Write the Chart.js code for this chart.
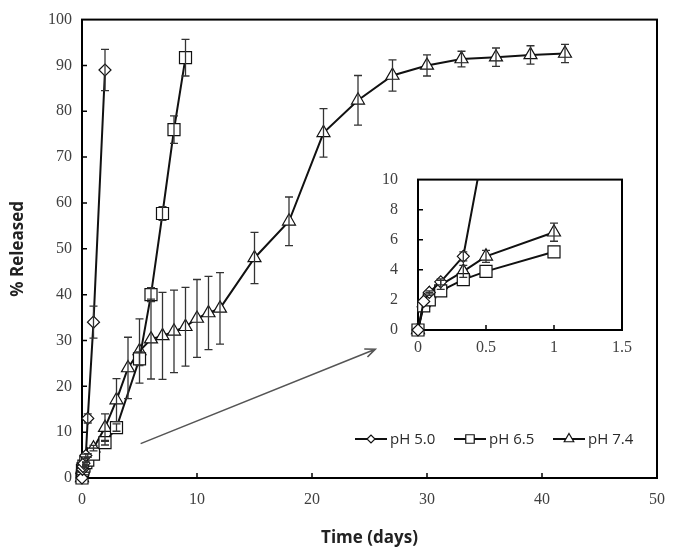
<!DOCTYPE html>
<html>
<head>
<meta charset="utf-8">
<script src="https://cdn.jsdelivr.net/npm/chart.js@4.4.1/dist/chart.umd.min.js"></script>
<style>
  body { margin: 0; background: #fff; }
  #wrap { position: relative; width: 677px; height: 556px; }
  #main { position: absolute; left: 0; top: 0; }
  #inset { position: absolute; left: 360px; top: 150px; }
</style>
</head>
<body>
<div id="wrap">
  <canvas id="main" width="677" height="556"></canvas>
  <canvas id="inset" width="280" height="215"></canvas>
</div>
<script>
// pH 5.0
const t50 = [0, 0.042, 0.083, 0.167, 0.333, 0.5, 1, 2];
const rel50 = [0, 1.9, 2.5, 3.2, 4.9, 13, 34, 89];
const err50 = [0, 0, 0.1, 0.2, 0.3, 1.0, 3.5, 4.5];

// pH 6.5
const t65 = [0, 0.042, 0.083, 0.167, 0.333, 0.5, 1, 2, 3, 5, 6, 7, 8, 9];
const rel65 = [0, 1.6, 2.0, 2.6, 3.35, 3.9, 5.2, 7.7, 11, 26, 40, 57.7, 76, 91.7];
const err65 = [0, 0, 0, 0, 0, 0, 0, 0.5, 0.8, 1.5, 1.5, 1.5, 3, 4];

// pH 7.4
const t74 = [0, 0.042, 0.083, 0.167, 0.333, 0.5, 1, 2, 3, 4, 5, 6, 7, 8, 9, 10, 11, 12, 15, 18, 21, 24, 27, 30, 33, 36, 39, 42];
const rel74 = [0, 1.8, 2.4, 3.0, 3.9, 4.9, 6.5, 11, 17, 24, 27.7, 30.3, 31, 32, 33, 34.8, 36, 37, 48, 56, 75.3, 82.4, 87.8, 90, 91.4, 91.8, 92.3, 92.6];
const err74 = [0, 0, 0.1, 0.3, 0.4, 0.4, 0.6, 3, 4.7, 6.7, 7, 8.7, 9.5, 9, 8.6, 8.5, 8, 7.8, 5.6, 5.3, 5.3, 5.4, 3.4, 2.3, 1.7, 2, 2, 2];

const seriesLabels = ['pH 5.0', 'pH 6.5', 'pH 7.4'];

// arrow pointing at the inset, in data units (days, %)
const arrowStart = [5.1, 7.5];
const arrowEnd = [25.5, 28.1];

const markerStyles = ['rectRot', 'rect', 'triangle'];
const markerRadius = [6, 8.5, 7.5];
const legendRadius = [4, 6, 5.5];

const tickFont = { family: 'Liberation Serif', size: 16 };
const titleFont = { family: 'Open Sans', size: 17, weight: 'bold' };

function buildSets(tMax, clip) {
  const src = [[t50, rel50, err50], [t65, rel65, err65], [t74, rel74, err74]];
  return src.map(([t, r, e], k) => {
    const idx = t.map((v, i) => i).filter(i => t[i] <= tMax);
    return {
      label: seriesLabels[k],
      data: idx.map(i => ({ x: t[i], y: r[i] })),
      errors: idx.map(i => e[i]),
      showLine: true,
      borderColor: '#111',
      borderWidth: 2,
      pointStyle: markerStyles[k],
      pointRadius: markerRadius[k],
      pointHoverRadius: markerRadius[k],
      pointBackgroundColor: '#fff',
      pointBorderColor: '#111',
      pointBorderWidth: 1.2,
      clip: clip
    };
  });
}

// box round the plot and short inward tick marks
const framePlugin = {
  id: 'frame',
  beforeDatasetsDraw(chart, args, opts) {
    const { ctx, chartArea: a, scales: { x, y } } = chart;
    ctx.save();
    ctx.strokeStyle = '#000';
    ctx.lineWidth = 2;
    ctx.strokeRect(a.left, a.top, a.right - a.left, a.bottom - a.top);
    ctx.lineWidth = 1.5;
    ctx.beginPath();
    x.ticks.forEach(t => {
      if (t.value <= x.min || t.value >= x.max) return;
      const px = x.getPixelForValue(t.value);
      ctx.moveTo(px, a.bottom);
      ctx.lineTo(px, a.bottom - opts.len);
    });
    y.ticks.forEach(t => {
      if (t.value <= y.min || t.value >= y.max) return;
      const py = y.getPixelForValue(t.value);
      ctx.moveTo(a.left, py);
      ctx.lineTo(a.left + opts.len, py);
    });
    ctx.stroke();
    ctx.restore();
  }
};

const errorBarPlugin = {
  id: 'errorBars',
  afterDatasetsDraw(chart) {
    const { ctx, chartArea: a, scales: { x, y } } = chart;
    ctx.save();
    ctx.beginPath();
    ctx.rect(a.left, a.top, a.right - a.left, a.bottom - a.top);
    ctx.clip();
    ctx.strokeStyle = '#333';
    ctx.lineWidth = 1.3;
    chart.data.datasets.forEach(ds => {
      ds.data.forEach((p, i) => {
        const e = ds.errors[i];
        if (!e) return;
        const px = x.getPixelForValue(p.x);
        const top = y.getPixelForValue(p.y + e);
        const bot = y.getPixelForValue(p.y - e);
        ctx.beginPath();
        ctx.moveTo(px, top); ctx.lineTo(px, bot);
        ctx.moveTo(px - 4, top); ctx.lineTo(px + 4, top);
        ctx.moveTo(px - 4, bot); ctx.lineTo(px + 4, bot);
        ctx.stroke();
      });
    });
    ctx.restore();
  }
};

const arrowPlugin = {
  id: 'arrow',
  afterDatasetsDraw(chart) {
    const { ctx, scales: { x, y } } = chart;
    const x0 = x.getPixelForValue(arrowStart[0]), y0 = y.getPixelForValue(arrowStart[1]);
    const x1 = x.getPixelForValue(arrowEnd[0]), y1 = y.getPixelForValue(arrowEnd[1]);
    const ang = Math.atan2(y1 - y0, x1 - x0);
    ctx.save();
    ctx.strokeStyle = '#555';
    ctx.lineWidth = 1.6;
    ctx.beginPath();
    ctx.moveTo(x0, y0);
    ctx.lineTo(x1, y1);
    ctx.moveTo(x1 - 11 * Math.cos(ang - 0.4), y1 - 11 * Math.sin(ang - 0.4));
    ctx.lineTo(x1, y1);
    ctx.lineTo(x1 - 11 * Math.cos(ang + 0.4), y1 - 11 * Math.sin(ang + 0.4));
    ctx.stroke();
    ctx.restore();
  }
};

// legend inside the plot, lower right
const legendPlugin = {
  id: 'insideLegend',
  afterDraw(chart) {
    const { ctx, chartArea: a } = chart;
    const y = a.bottom - 39;
    let x = a.left + 273;
    chart.data.datasets.forEach((ds, k) => {
      ctx.save();
      ctx.strokeStyle = '#111';
      ctx.lineWidth = 2;
      ctx.beginPath();
      ctx.moveTo(x, y);
      ctx.lineTo(x + 32, y);
      ctx.stroke();
      ctx.fillStyle = '#fff';
      ctx.lineWidth = 1.2;
      Chart.helpers.drawPoint(ctx, { pointStyle: ds.pointStyle, radius: legendRadius[k], rotation: 0, borderWidth: 1.2 }, x + 16, y);
      ctx.fillStyle = '#2a2a2a';
      ctx.font = '15px "Open Sans"';
      ctx.textBaseline = 'middle';
      ctx.fillText(ds.label, x + 35, y + 1);
      ctx.restore();
      x += 99;
    });
  }
};

new Chart(document.getElementById('main'), {
  type: 'scatter',
  data: { datasets: buildSets(Infinity, false) },
  options: {
    responsive: false,
    animation: false,
    events: [],
    layout: { padding: { top: 12, right: 14, left: 0, bottom: 0 } },
    plugins: {
      legend: { display: false },
      tooltip: { enabled: false },
      frame: { len: 5 }
    },
    scales: {
      x: {
        type: 'linear', min: 0, max: 50,
        ticks: { stepSize: 10, padding: 12, color: '#404040', font: tickFont },
        grid: { display: false, drawTicks: false },
        border: { display: false },
        title: { display: true, text: 'Time (days)', color: '#222', font: titleFont, padding: { top: 4, bottom: 8 } },
        afterFit(s) { s.height = 78; }
      },
      y: {
        type: 'linear', min: 0, max: 100,
        ticks: { stepSize: 10, padding: 10, color: '#404040', font: tickFont },
        grid: { display: false, drawTicks: false },
        border: { display: false },
        title: { display: true, text: '% Released', color: '#222', font: titleFont, padding: { top: 8, bottom: 6 } },
        afterFit(s) { s.width = 82; }
      }
    }
  },
  plugins: [framePlugin, errorBarPlugin, arrowPlugin, legendPlugin]
});

new Chart(document.getElementById('inset'), {
  type: 'scatter',
  data: { datasets: buildSets(1, { left: 12, top: 0, right: 0, bottom: 12 }) },
  options: {
    responsive: false,
    animation: false,
    events: [],
    layout: { padding: { top: 19, right: 12, left: 0, bottom: 0 } },
    plugins: {
      legend: { display: false },
      tooltip: { enabled: false },
      frame: { len: 5 }
    },
    scales: {
      x: {
        type: 'linear', min: 0, max: 1.5,
        ticks: { stepSize: 0.5, padding: 8, color: '#404040', font: tickFont, callback: v => String(v) },
        grid: { display: false, drawTicks: false },
        border: { display: false },
        afterFit(s) { s.height = 35; }
      },
      y: {
        type: 'linear', min: 0, max: 10,
        ticks: { stepSize: 2, padding: 20, color: '#404040', font: tickFont },
        grid: { display: false, drawTicks: false },
        border: { display: false },
        afterFit(s) { s.width = 58; }
      }
    }
  },
  plugins: [framePlugin, errorBarPlugin]
});
</script>
</body>
</html>
